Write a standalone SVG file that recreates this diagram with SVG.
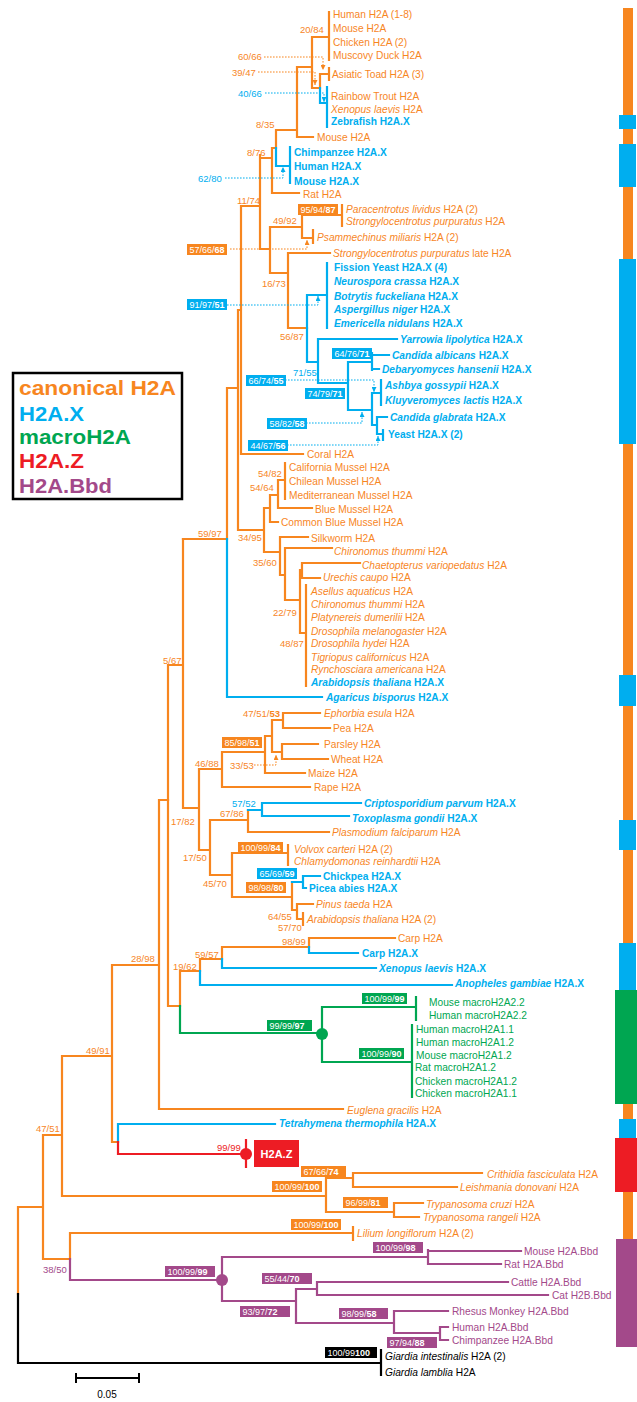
<svg xmlns="http://www.w3.org/2000/svg" width="637" height="1402" viewBox="0 0 637 1402">
<defs>
<style>
.l{fill:none;stroke-width:2.2;stroke-linejoin:miter;stroke-linecap:square}
.lo{stroke:#F7861F}.lb{stroke:#00AEEF}.lg{stroke:#00A651}.lr{stroke:#ED1C24}.lp{stroke:#A3498A}.lk{stroke:#000}
.d{fill:none;stroke-width:1;stroke-dasharray:1.6,1.4}
text{font-family:"Liberation Sans",Arial,Helvetica,sans-serif}
.t{font-size:10.2px}
.co{fill:#F7861F}.cb{fill:#00AEEF;font-weight:bold}.cg{fill:#00A651}.cp{fill:#A3498A}.ck{fill:#000}.cr{fill:#ED1C24}
.s{font-size:9.5px}
.bt{font-size:9px;fill:#fff}
.bd{font-weight:bold}
.i{font-style:italic}
.lgd{font-size:21px;font-weight:bold}
</style>
<marker id="ao" viewBox="0 0 6 6" refX="6" refY="3" markerWidth="5" markerHeight="5" markerUnits="userSpaceOnUse" orient="auto"><path d="M0,0L6,3L0,6z" fill="#F7861F"/></marker>
<marker id="ab" viewBox="0 0 6 6" refX="6" refY="3" markerWidth="5" markerHeight="5" markerUnits="userSpaceOnUse" orient="auto"><path d="M0,0L6,3L0,6z" fill="#00AEEF"/></marker>
</defs>
<rect width="637" height="1402" fill="#fff"/>

<g id="connectors">
<path class="l lo" d="M329 12V60M312 37H329M312 37V88M312 88H320M320 74V88M320 74H329M329 68V80M297 67H312M297 67V137H313M276 130H297M276 130V148M272 148H276M272 148V193H299M260 158H272M260 155V249M241 206H260M241 206V454H303M260 249H270M270 227V273M270 227H302M302 215V238M302 215H342M342 205V226M302 238H313M313 230V243M270 273H288M288 253V328H307M288 253H330M238 310H241M238 310V530H264M227 388H238M227 388V539M183 539H227M264 508V552M264 508H270M270 495V522H278M270 495H278M278 480V508H312M278 480H285M285 463V499M264 552H280M280 537V575H285M280 537H308M285 548H332M285 548V600H300M300 570V633H306M300 570H302M302 563V578M302 563H360M302 578H320M306 585V686"/>
<path class="l lo" d="M168 665H183M183 539V808H199M168 665V1006H180M199 769H222M199 769V850H210M222 752V787H310M222 752H265M265 736V773H305M265 736H272M272 720V752H282M272 720H283M283 713V728M283 713H320M283 728H330M282 744V759M282 744H318M282 759H328M210 820V875H232M210 820H248M248 810V832H329M232 853V897H292M232 853H288M288 845V865M292 882V910H297M297 904V919H303M297 904H313M303 913V925M180 971V1006M180 971H200M200 959V971M200 959H222M222 947V959M222 947H309M309 938V947M309 938H395"/>
<path class="l lo" d="M159 800H168M159 800V1109H343M112 965H159M112 965V1142H118M62 1056H112M62 1056V1196H326M326 1178V1212M326 1178H353M353 1173V1187M353 1173H482M353 1187H457M326 1212H394M394 1203V1217M394 1203H423M394 1217H419M43 1135H62M43 1135V1259H70M18 1207H43M18 1207V1294M70 1233V1259M70 1233H353M353 1227V1240"/>
<path class="l lb" d="M320 88V103H327M327 87V127M276 148V166H290M290 147V183M307 295V362H318M307 295H327M327 263V328M318 339V383H348M318 339H397M348 362V410H372M348 362H372M372 353V370M372 355H389M372 369H379M372 393V425H377M372 393H381M381 380V405M377 417V434H383M377 417H387M383 430V440M227 539V697H322M248 810H262M262 803V816M262 803H361M262 816H349M292 882H303M303 876V888M303 876H320M303 888H306M200 971V985H452M222 959V968H376M309 947V953H358M118 1142V1124H275"/>
<path class="l lg" d="M180 1006V1033H322M322 1007V1062M322 1007H416M416 997V1020M322 1062H412M412 1025V1097"/>
<path class="l lr" d="M118 1142V1154H246M246 1140V1167"/>
<path class="l lp" d="M70 1259V1280H222M222 1257V1301M222 1257H428M428 1250V1264M428 1251H521M428 1264H501M222 1301H296M296 1289V1323M296 1289H317M317 1282V1295M317 1282H508M317 1295H548M296 1323H394M394 1311V1333M394 1311H448M394 1333H440M440 1327V1340M440 1327H448M440 1340H448"/>
<path class="l lk" d="M18 1294V1363H381M381 1350V1375"/>
<circle cx="322" cy="1034" r="6" fill="#00A651"/>
<circle cx="246" cy="1154" r="6" fill="#ED1C24"/>
<circle cx="222" cy="1280" r="6" fill="#A3498A"/>
<path class="d lo" d="M264 57H323V70" marker-end="url(#ao)"/>
<path class="d lo" d="M258 72H315V85" marker-end="url(#ao)"/>
<path class="d lb" d="M265 93H324V102" marker-end="url(#ab)"/>
<path class="d lb" d="M225 178H283V167" marker-end="url(#ab)"/>
<path class="d lo" d="M230 249H307V240" marker-end="url(#ao)"/>
<path class="d lb" d="M227 305H318V296" marker-end="url(#ab)"/>
<path class="d lb" d="M285 380H374V392" marker-end="url(#ab)"/>
<path class="d lb" d="M306 423H362V412" marker-end="url(#ab)"/>
<path class="d lb" d="M287 445H378V436" marker-end="url(#ab)"/>
<path class="d lo" d="M254 765H276V755" marker-end="url(#ao)"/>
</g>

<g id="leaves" class="t">
<g id="n1"><text class="co" x="333" y="17.6">Human H2A (1-8)</text></g>
<g id="n2"><text class="co" x="333" y="31.6">Mouse H2A</text></g>
<g id="n3"><text class="co" x="333" y="45.6">Chicken H2A (2)</text></g>
<g id="n4"><text class="co" x="333" y="58.6">Muscovy Duck H2A</text></g>
<g id="n5"><text class="co" x="332" y="77.6">Asiatic Toad H2A (3)</text></g>
<g id="n6"><text class="co" x="331" y="99.6">Rainbow Trout H2A</text></g>
<g id="n7"><text class="co" x="331" y="112.6"><tspan class="i">Xenopus laevis</tspan> H2A</text></g>
<g id="n8"><text class="cb" x="331" y="124.6">Zebrafish H2A.X</text></g>
<g id="n9"><text class="co" x="317" y="140.6">Mouse H2A</text></g>
<g id="n10"><text class="cb" x="294" y="155.6">Chimpanzee H2A.X</text></g>
<g id="n11"><text class="cb" x="294" y="169.6">Human H2A.X</text></g>
<g id="n12"><text class="cb" x="294" y="184.6">Mouse H2A.X</text></g>
<g id="n13"><text class="co" x="303" y="197.6">Rat H2A</text></g>
<g id="n14"><text class="co" x="346" y="212.6"><tspan class="i">Paracentrotus lividus</tspan> H2A (2)</text></g>
<g id="n15"><text class="co" x="346" y="224.6"><tspan class="i">Strongylocentrotus purpuratus</tspan> H2A</text></g>
<g id="n16"><text class="co" x="317" y="240.6"><tspan class="i">Psammechinus miliaris</tspan> H2A (2)</text></g>
<g id="n17"><text class="co" x="333" y="256.6"><tspan class="i">Strongylocentrotus purpuratus</tspan> late H2A</text></g>
<g id="n18"><text class="cb" x="334" y="270.6">Fission Yeast H2A.X (4)</text></g>
<g id="n19"><text class="cb" x="334" y="284.6"><tspan class="i">Neurospora crassa</tspan> H2A.X</text></g>
<g id="n20"><text class="cb" x="334" y="299.6"><tspan class="i">Botrytis fuckeliana</tspan> H2A.X</text></g>
<g id="n21"><text class="cb" x="334" y="312.6"><tspan class="i">Aspergillus niger</tspan> H2A.X</text></g>
<g id="n22"><text class="cb" x="334" y="326.6"><tspan class="i">Emericella nidulans</tspan> H2A.X</text></g>
<g id="n23"><text class="cb" x="400" y="342.6"><tspan class="i">Yarrowia lipolytica</tspan> H2A.X</text></g>
<g id="n24"><text class="cb" x="392" y="358.6"><tspan class="i">Candida albicans</tspan> H2A.X</text></g>
<g id="n25"><text class="cb" x="382" y="372.6"><tspan class="i">Debaryomyces hansenii</tspan> H2A.X</text></g>
<g id="n26"><text class="cb" x="385" y="388.6"><tspan class="i">Ashbya gossypii</tspan> H2A.X</text></g>
<g id="n27"><text class="cb" x="385" y="403.6"><tspan class="i">Kluyveromyces lactis</tspan> H2A.X</text></g>
<g id="n28"><text class="cb" x="390" y="420.6"><tspan class="i">Candida glabrata</tspan> H2A.X</text></g>
<g id="n29"><text class="cb" x="388" y="437.6">Yeast H2A.X (2)</text></g>
<g id="n30"><text class="co" x="307" y="457.6">Coral H2A</text></g>
<g id="n31"><text class="co" x="289" y="470.6">California Mussel H2A</text></g>
<g id="n32"><text class="co" x="289" y="484.6">Chilean Mussel H2A</text></g>
<g id="n33"><text class="co" x="289" y="498.6">Mediterranean Mussel H2A</text></g>
<g id="n34"><text class="co" x="315" y="512.6">Blue Mussel H2A</text></g>
<g id="n35"><text class="co" x="281" y="525.6">Common Blue Mussel H2A</text></g>
<g id="n36"><text class="co" x="311" y="541.6">Silkworm H2A</text></g>
<g id="n37"><text class="co" x="334" y="554.6"><tspan class="i">Chironomus thummi</tspan> H2A</text></g>
<g id="n38"><text class="co" x="362" y="568.6"><tspan class="i">Chaetopterus variopedatus</tspan> H2A</text></g>
<g id="n39"><text class="co" x="323" y="580.6"><tspan class="i">Urechis caupo</tspan> H2A</text></g>
<g id="n40"><text class="co" x="311" y="594.6"><tspan class="i">Asellus aquaticus</tspan> H2A</text></g>
<g id="n41"><text class="co" x="311" y="607.6"><tspan class="i">Chironomus thummi</tspan> H2A</text></g>
<g id="n42"><text class="co" x="311" y="620.6"><tspan class="i">Platynereis dumerilii</tspan> H2A</text></g>
<g id="n43"><text class="co" x="311" y="634.6"><tspan class="i">Drosophila melanogaster</tspan> H2A</text></g>
<g id="n44"><text class="co" x="311" y="646.6"><tspan class="i">Drosophila hydei</tspan> H2A</text></g>
<g id="n45"><text class="co" x="311" y="660.6"><tspan class="i">Tigriopus californicus</tspan> H2A</text></g>
<g id="n46"><text class="co" x="311" y="672.6"><tspan class="i">Rynchosciara americana</tspan> H2A</text></g>
<g id="n47"><text class="cb" x="311" y="685.6"><tspan class="i">Arabidopsis thaliana</tspan> H2A.X</text></g>
<g id="n48"><text class="cb" x="326" y="700.6"><tspan class="i">Agaricus bisporus</tspan> H2A.X</text></g>
<g id="n49"><text class="co" x="324" y="716.6"><tspan class="i">Ephorbia esula</tspan> H2A</text></g>
<g id="n50"><text class="co" x="333" y="731.6">Pea H2A</text></g>
<g id="n51"><text class="co" x="324" y="747.6">Parsley H2A</text></g>
<g id="n52"><text class="co" x="331" y="762.6">Wheat H2A</text></g>
<g id="n53"><text class="co" x="308" y="776.6">Maize H2A</text></g>
<g id="n54"><text class="co" x="314" y="790.6">Rape H2A</text></g>
<g id="n55"><text class="cb" x="364" y="806.6"><tspan class="i">Criptosporidium parvum</tspan> H2A.X</text></g>
<g id="n56"><text class="cb" x="352" y="821.6"><tspan class="i">Toxoplasma gondii</tspan> H2A.X</text></g>
<g id="n57"><text class="co" x="332" y="835.6"><tspan class="i">Plasmodium falciparum</tspan> H2A</text></g>
<g id="n58"><text class="co" x="294" y="852.6"><tspan class="i">Volvox carteri</tspan> H2A (2)</text></g>
<g id="n59"><text class="co" x="294" y="864.6"><tspan class="i">Chlamydomonas reinhardtii</tspan> H2A</text></g>
<g id="n60"><text class="cb" x="323" y="879.6">Chickpea H2A.X</text></g>
<g id="n61"><text class="cb" x="309" y="891.6">Picea abies H2A.X</text></g>
<g id="n62"><text class="co" x="316" y="907.6"><tspan class="i">Pinus taeda</tspan> H2A</text></g>
<g id="n63"><text class="co" x="307" y="922.6"><tspan class="i">Arabidopsis thaliana</tspan> H2A (2)</text></g>
<g id="n64"><text class="co" x="398" y="941.6">Carp H2A</text></g>
<g id="n65"><text class="cb" x="362" y="956.6">Carp H2A.X</text></g>
<g id="n66"><text class="cb" x="379" y="971.6"><tspan class="i">Xenopus laevis</tspan> H2A.X</text></g>
<g id="n67"><text class="cb" x="455" y="986.6"><tspan class="i">Anopheles gambiae</tspan> H2A.X</text></g>
<g id="n68"><text class="cg" x="429" y="1005.6">Mouse macroH2A2.2</text></g>
<g id="n69"><text class="cg" x="429" y="1018.6">Human macroH2A2.2</text></g>
<g id="n70"><text class="cg" x="416" y="1032.6">Human macroH2A1.1</text></g>
<g id="n71"><text class="cg" x="416" y="1045.6">Human macroH2A1.2</text></g>
<g id="n72"><text class="cg" x="416" y="1058.6">Mouse macroH2A1.2</text></g>
<g id="n73"><text class="cg" x="415" y="1070.6">Rat macroH2A1.2</text></g>
<g id="n74"><text class="cg" x="415" y="1084.6">Chicken macroH2A1.2</text></g>
<g id="n75"><text class="cg" x="415" y="1096.6">Chicken macroH2A1.1</text></g>
<g id="n76"><text class="co" x="347" y="1113.6"><tspan class="i">Euglena gracilis</tspan> H2A</text></g>
<g id="n77"><text class="cb" x="279" y="1126.6"><tspan class="i">Tetrahymena thermophila</tspan> H2A.X</text></g>
<g id="n78"><rect x="254" y="1140" width="45" height="27" fill="#ED1C24"/><text x="276.5" y="1157.5" text-anchor="middle" style="font-size:11px;font-weight:bold;fill:#fff">H2A.Z</text></g>
<g id="n79"><text class="co" x="487" y="1177.6"><tspan class="i">Crithidia fasciculata</tspan> H2A</text></g>
<g id="n80"><text class="co" x="460" y="1190.6"><tspan class="i">Leishmania donovani</tspan> H2A</text></g>
<g id="n81"><text class="co" x="426" y="1207.6"><tspan class="i">Trypanosoma cruzi</tspan> H2A</text></g>
<g id="n82"><text class="co" x="423" y="1220.6"><tspan class="i">Trypanosoma rangeli</tspan> H2A</text></g>
<g id="n83"><text class="co" x="357" y="1236.6"><tspan class="i">Lilium longiflorum</tspan> H2A (2)</text></g>
<g id="n84"><text class="cp" x="524" y="1254.6">Mouse H2A.Bbd</text></g>
<g id="n85"><text class="cp" x="504" y="1267.6">Rat H2A.Bbd</text></g>
<g id="n86"><text class="cp" x="511" y="1285.6">Cattle H2A.Bbd</text></g>
<g id="n87"><text class="cp" x="552" y="1298.6">Cat H2B.Bbd</text></g>
<g id="n88"><text class="cp" x="452" y="1314.6">Rhesus Monkey H2A.Bbd</text></g>
<g id="n89"><text class="cp" x="452" y="1330.6">Human H2A.Bbd</text></g>
<g id="n90"><text class="cp" x="452" y="1343.6">Chimpanzee H2A.Bbd</text></g>
<g id="n91"><text class="ck" x="385" y="1359.6"><tspan class="i">Giardia intestinalis</tspan> H2A (2)</text></g>
<g id="n92"><text class="ck" x="385" y="1375.6"><tspan class="i">Giardia lamblia</tspan> H2A</text></g>
</g>

<g id="support" class="s">
<text class="co" x="300" y="32.5">20/84</text>
<text class="co" x="238" y="59.5">60/66</text>
<text class="co" x="232" y="75.5">39/47</text>
<text class="cb" style="font-weight:normal" x="238" y="96.5">40/66</text>
<text class="co" x="256" y="127.5">8/35</text>
<text class="co" x="247" y="155.5">8/76</text>
<text class="cb" style="font-weight:normal" x="198" y="181.5">62/80</text>
<text class="co" x="237" y="203.5">11/74</text>
<text class="co" x="273" y="223.5">49/92</text>
<text class="co" x="262" y="286.5">16/73</text>
<text class="co" x="280" y="339.5">56/87</text>
<text class="cb" style="font-weight:normal" x="293" y="375.5">71/55</text>
<text class="co" x="258" y="476.5">54/82</text>
<text class="co" x="250" y="490.5">54/64</text>
<text class="co" x="198" y="536.5">59/97</text>
<text class="co" x="238" y="540.5">34/95</text>
<text class="co" x="253" y="565.5">35/60</text>
<text class="co" x="273" y="615.5">22/79</text>
<text class="co" x="280" y="646.5">48/87</text>
<text class="co" x="163" y="663.5">5/67</text>
<text class="co" x="243" y="716.5">47/51/<tspan class="bd">53</tspan></text>
<text class="co" x="195" y="766.5">46/88</text>
<text class="co" x="230" y="768.5">33/53</text>
<text class="cb" style="font-weight:normal" x="232" y="806.5">57/52</text>
<text class="co" x="220" y="816.5">67/86</text>
<text class="co" x="171" y="824.5">17/82</text>
<text class="co" x="183" y="860.5">17/50</text>
<text class="co" x="203" y="886.5">45/70</text>
<text class="co" x="268" y="919.5">64/55</text>
<text class="co" x="278" y="930.5">57/70</text>
<text class="co" x="282" y="944.5">98/99</text>
<text class="co" x="195" y="957.5">59/57</text>
<text class="co" x="173" y="969.5">19/62</text>
<text class="co" x="131" y="961.5">28/98</text>
<text class="co" x="86" y="1053.5">49/91</text>
<text class="cr" x="217" y="1150.5">99/99</text>
<text class="co" x="36" y="1131.5">47/51</text>
<text class="cp" x="43" y="1272.5">38/50</text>
</g>

<g id="boxes">
<g id="bx1"><rect x="298" y="204" width="40" height="11" fill="#F7861F"/><text class="bt" x="300.5" y="212.7">95/94/<tspan class="bd">87</tspan></text></g>
<g id="bx2"><rect x="187" y="244" width="40" height="11" fill="#F7861F"/><text class="bt" x="189.5" y="252.7">57/66/<tspan class="bd">68</tspan></text></g>
<g id="bx3"><rect x="187" y="299" width="40" height="11" fill="#00AEEF"/><text class="bt" x="189.5" y="307.7">91/97/<tspan class="bd">51</tspan></text></g>
<g id="bx4"><rect x="332" y="348" width="40" height="11" fill="#00AEEF"/><text class="bt" x="334.5" y="356.7">64/76/<tspan class="bd">71</tspan></text></g>
<g id="bx5"><rect x="246" y="375" width="40" height="11" fill="#00AEEF"/><text class="bt" x="248.5" y="383.7">66/74/<tspan class="bd">55</tspan></text></g>
<g id="bx6"><rect x="305" y="388" width="40" height="11" fill="#00AEEF"/><text class="bt" x="307.5" y="396.7">74/79/<tspan class="bd">71</tspan></text></g>
<g id="bx7"><rect x="267" y="418" width="40" height="11" fill="#00AEEF"/><text class="bt" x="269.5" y="426.7">58/82/<tspan class="bd">58</tspan></text></g>
<g id="bx8"><rect x="248" y="440" width="40" height="11" fill="#00AEEF"/><text class="bt" x="250.5" y="448.7">44/67/<tspan class="bd">56</tspan></text></g>
<g id="bx9"><rect x="222" y="737" width="40" height="11" fill="#F7861F"/><text class="bt" x="224.5" y="745.7">85/98/<tspan class="bd">51</tspan></text></g>
<g id="bx10"><rect x="238" y="842" width="45" height="11" fill="#F7861F"/><text class="bt" x="240.5" y="850.7">100/99/<tspan class="bd">84</tspan></text></g>
<g id="bx11"><rect x="257" y="868" width="40" height="11" fill="#00AEEF"/><text class="bt" x="259.5" y="876.7">65/69/<tspan class="bd">59</tspan></text></g>
<g id="bx12"><rect x="246" y="882" width="40" height="11" fill="#F7861F"/><text class="bt" x="248.5" y="890.7">98/98/<tspan class="bd">80</tspan></text></g>
<g id="bx13"><rect x="362" y="993" width="45" height="11" fill="#00A651"/><text class="bt" x="364.5" y="1001.7">100/99/<tspan class="bd">99</tspan></text></g>
<g id="bx14"><rect x="267" y="1020" width="45" height="11" fill="#00A651"/><text class="bt" x="269.5" y="1028.7">99/99/<tspan class="bd">97</tspan></text></g>
<g id="bx15"><rect x="359" y="1048" width="45" height="11" fill="#00A651"/><text class="bt" x="361.5" y="1056.7">100/99/<tspan class="bd">90</tspan></text></g>
<g id="bx16"><rect x="301" y="1166" width="45" height="11" fill="#F7861F"/><text class="bt" x="303.5" y="1174.7">67/66/<tspan class="bd">74</tspan></text></g>
<g id="bx17"><rect x="272" y="1181" width="50" height="11" fill="#F7861F"/><text class="bt" x="274.5" y="1189.7">100/99/<tspan class="bd">100</tspan></text></g>
<g id="bx18"><rect x="343" y="1197" width="45" height="11" fill="#F7861F"/><text class="bt" x="345.5" y="1205.7">96/99/<tspan class="bd">81</tspan></text></g>
<g id="bx19"><rect x="291" y="1219" width="50" height="11" fill="#F7861F"/><text class="bt" x="293.5" y="1227.7">100/99/<tspan class="bd">100</tspan></text></g>
<g id="bx20"><rect x="373" y="1242" width="50" height="11" fill="#A3498A"/><text class="bt" x="375.5" y="1250.7">100/99/<tspan class="bd">98</tspan></text></g>
<g id="bx21"><rect x="165" y="1266" width="50" height="11" fill="#A3498A"/><text class="bt" x="167.5" y="1274.7">100/99/<tspan class="bd">99</tspan></text></g>
<g id="bx22"><rect x="262" y="1273" width="50" height="11" fill="#A3498A"/><text class="bt" x="264.5" y="1281.7">55/44/<tspan class="bd">70</tspan></text></g>
<g id="bx23"><rect x="240" y="1306" width="50" height="11" fill="#A3498A"/><text class="bt" x="242.5" y="1314.7">93/97/<tspan class="bd">72</tspan></text></g>
<g id="bx24"><rect x="339" y="1308" width="49" height="11" fill="#A3498A"/><text class="bt" x="341.5" y="1316.7">98/99/<tspan class="bd">58</tspan></text></g>
<g id="bx25"><rect x="387" y="1337" width="50" height="11" fill="#A3498A"/><text class="bt" x="389.5" y="1345.7">97/94/<tspan class="bd">88</tspan></text></g>
<g id="bx26"><rect x="325" y="1347" width="52" height="11" fill="#000"/><text class="bt" x="327.5" y="1355.7">100/99<tspan class="bd">100</tspan></text></g>
</g>

<g id="legend">
<rect x="13" y="373" width="169" height="126" fill="#fff" stroke="#000" stroke-width="2.5"/>
<text class="lgd" x="19" y="395" fill="#F7861F" textLength="157" lengthAdjust="spacingAndGlyphs">canonical H2A</text>
<text class="lgd" x="19" y="420.5" fill="#00AEEF" textLength="65" lengthAdjust="spacingAndGlyphs">H2A.X</text>
<text class="lgd" x="19" y="443.5" fill="#00A651" textLength="112" lengthAdjust="spacingAndGlyphs">macroH2A</text>
<text class="lgd" x="19" y="468" fill="#ED1C24" textLength="65" lengthAdjust="spacingAndGlyphs">H2A.Z</text>
<text class="lgd" x="19" y="493" fill="#A3498A" textLength="93" lengthAdjust="spacingAndGlyphs">H2A.Bbd</text>
</g>

<g id="classbar">
<rect x="623" y="8" width="10" height="1232" fill="#F7861F"/>
<rect x="619" y="115" width="17" height="14" fill="#00AEEF"/>
<rect x="619" y="144" width="17" height="43" fill="#00AEEF"/>
<rect x="619" y="259" width="17" height="185" fill="#00AEEF"/>
<rect x="619" y="675" width="17" height="31" fill="#00AEEF"/>
<rect x="619" y="820" width="17" height="30" fill="#00AEEF"/>
<rect x="619" y="943" width="17" height="47" fill="#00AEEF"/>
<rect x="615" y="990" width="22" height="114" fill="#00A651"/>
<rect x="619" y="1119" width="17" height="19" fill="#00AEEF"/>
<rect x="615" y="1138" width="22" height="54" fill="#ED1C24"/>
<rect x="616" y="1239" width="21" height="108" fill="#A3498A"/>
</g>

<g id="scale">
<path d="M76 1378H139M76 1373V1383M139 1373V1383" stroke="#000" stroke-width="2" fill="none"/>
<text x="107" y="1398" text-anchor="middle" style="font-size:10px">0.05</text>
</g>
</svg>
